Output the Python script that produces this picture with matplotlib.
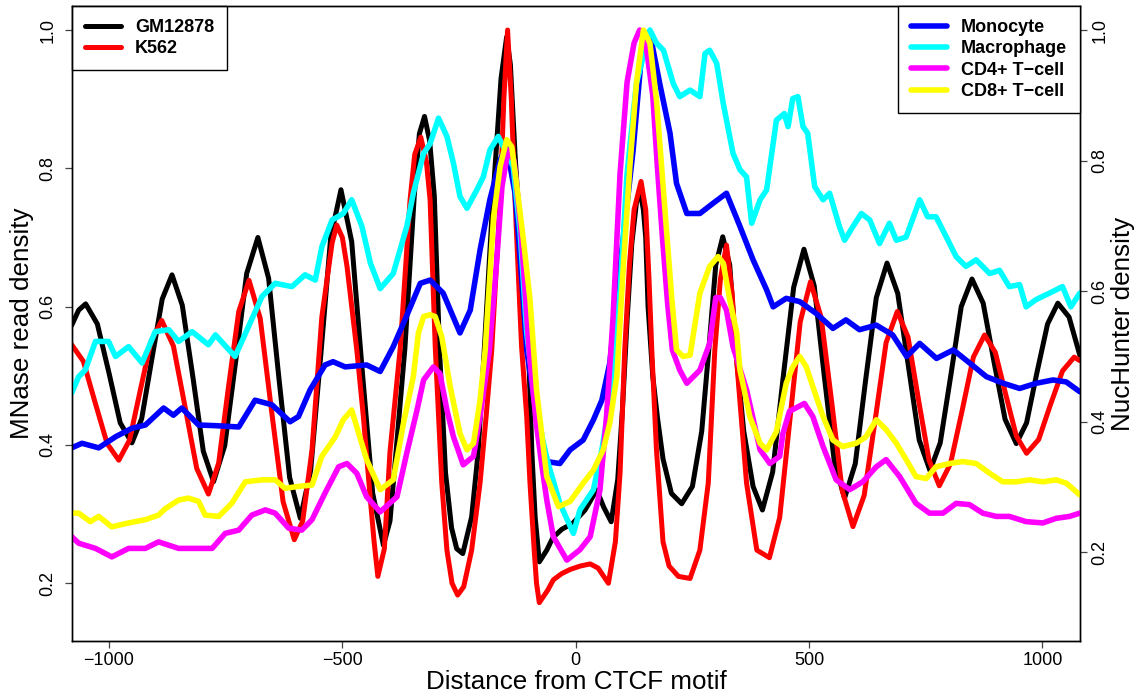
import matplotlib
matplotlib.use("Agg")
import matplotlib.pyplot as plt

plt.rcParams['font.family'] = ['Liberation Sans', 'DejaVu Sans']

# ---- MNase read density (left axis) ----
gm_x = [-1080, -1065, -1050, -1025, -1000, -976, -951, -930, -908, -886, -865, -843, -820, -798,
        -776, -752, -728, -705, -681, -658, -636, -613, -590, -568, -546, -525, -503, -480, -458,
        -435, -412, -398, -385, -366, -346, -335, -324, -313, -303, -292, -279, -266, -255, -242,
        -223, -209, -196, -178, -160, -148, -140, -130, -115, -101, -94, -87, -78, -62, -49, -30,
        -6, 20, 45, 60, 76, 90, 100, 110, 120, 130, 137, 145, 150, 155, 165, 175, 187, 205, 227,
        250, 270, 285, 300, 315, 330, 343, 360, 380, 400, 422, 444, 467, 489, 511, 532, 554, 576,
        599, 621, 644, 667, 690, 713, 736, 759, 781, 804, 826, 849, 873, 896, 920, 944, 966, 988,
        1011, 1033, 1057, 1080]
gm_y = [0.573, 0.595, 0.604, 0.575, 0.504, 0.432, 0.403, 0.438, 0.525, 0.611, 0.646, 0.602, 0.497,
        0.391, 0.347, 0.399, 0.524, 0.648, 0.700, 0.641, 0.497, 0.353, 0.294, 0.363, 0.532, 0.700,
        0.769, 0.694, 0.512, 0.330, 0.255, 0.29, 0.39, 0.54, 0.76, 0.85, 0.875, 0.84, 0.76, 0.54,
        0.36, 0.28, 0.25, 0.243, 0.296, 0.39, 0.537, 0.75, 0.93, 0.99, 0.95, 0.82, 0.66, 0.537,
        0.39, 0.296, 0.231, 0.248, 0.266, 0.278, 0.287, 0.306, 0.335, 0.31, 0.289, 0.35, 0.45,
        0.58, 0.69, 0.75, 0.77, 0.74, 0.70, 0.60, 0.50, 0.44, 0.38, 0.33, 0.315, 0.34, 0.42, 0.537,
        0.66, 0.701, 0.66, 0.537, 0.42, 0.34, 0.306, 0.361, 0.495, 0.628, 0.683, 0.630, 0.503,
        0.376, 0.323, 0.373, 0.493, 0.613, 0.663, 0.619, 0.513, 0.407, 0.363, 0.403, 0.502, 0.600,
        0.640, 0.605, 0.521, 0.437, 0.402, 0.432, 0.504, 0.575, 0.605, 0.585, 0.530]

k562_x = [-1080, -1055, -1030, -1004, -979, -956, -933, -910, -887, -862, -837, -812, -787, -765,
          -744, -722, -700, -676, -652, -627, -603, -585, -565, -544, -522, -512, -500, -490, -469,
          -455, -440, -432, -424, -410, -398, -376, -355, -345, -332, -320, -312, -301, -287, -276,
          -265, -253, -240, -223, -205, -192, -180, -162, -154, -146, -138, -130, -116, -105, -98,
          -89, -84, -78, -60, -48, -30, -12, 10, 31, 48, 60, 70, 85, 95, 105, 115, 125, 140, 150,
          157, 163, 173, 187, 200, 220, 245, 266, 284, 298, 310, 323, 335, 343, 366, 388, 415, 437,
          459, 481, 503, 526, 549, 571, 594, 618, 642, 665, 689, 712, 734, 757, 779, 803, 828, 852,
          876, 899, 921, 944, 966, 992, 1017, 1043, 1068, 1080]
k562_y = [0.545, 0.521, 0.462, 0.402, 0.378, 0.407, 0.479, 0.550, 0.580, 0.543, 0.455, 0.366, 0.329,
          0.374, 0.484, 0.593, 0.638, 0.583, 0.451, 0.318, 0.263, 0.29, 0.393, 0.585, 0.692, 0.718,
          0.70, 0.658, 0.537, 0.441, 0.321, 0.26, 0.210, 0.25, 0.39, 0.54, 0.754, 0.82, 0.845, 0.81,
          0.754, 0.542, 0.345, 0.248, 0.200, 0.183, 0.195, 0.248, 0.345, 0.441, 0.537, 0.754, 0.90,
          1.0, 0.90, 0.754, 0.542, 0.441, 0.345, 0.248, 0.200, 0.172, 0.19, 0.205, 0.214, 0.22,
          0.225, 0.228, 0.222, 0.21, 0.20, 0.26, 0.36, 0.537, 0.66, 0.74, 0.781, 0.74, 0.64, 0.537,
          0.393, 0.26, 0.225, 0.21, 0.207, 0.248, 0.345, 0.537, 0.64, 0.689, 0.62, 0.537, 0.345,
          0.248, 0.237, 0.295, 0.437, 0.578, 0.636, 0.584, 0.459, 0.334, 0.282, 0.327, 0.438, 0.548,
          0.593, 0.556, 0.467, 0.378, 0.341, 0.373, 0.450, 0.527, 0.559, 0.534, 0.474, 0.413, 0.388,
          0.408, 0.458, 0.507, 0.527, 0.522]

# ---- NucHunter density (right axis) ----
mono_x = [-1080, -1058, -1022, -986, -951, -922, -883, -862, -844, -808, -772, -722, -687, -651,
          -612, -594, -569, -537, -520, -494, -448, -419, -391, -366, -333, -312, -284, -248, -226,
          -205, -184, -162, -148, -130, -118, -105, -84, -62, -34, -12, 16, 38, 56, 73, 95, 123, 145,
          159, 180, 202, 216, 238, 266, 295, 323, 352, 380, 409, 423, 451, 480, 515, 551, 579, 608,
          644, 679, 709, 737, 773, 809, 844, 880, 916, 951, 987, 1023, 1051, 1080]
mono_y = [0.360, 0.367, 0.360, 0.377, 0.390, 0.395, 0.421, 0.410, 0.421, 0.395, 0.394, 0.392, 0.433,
          0.426, 0.400, 0.408, 0.449, 0.487, 0.492, 0.484, 0.487, 0.477, 0.515, 0.556, 0.612, 0.617,
          0.597, 0.536, 0.571, 0.663, 0.740, 0.801, 0.821, 0.75, 0.64, 0.510, 0.408, 0.339, 0.336,
          0.357, 0.372, 0.403, 0.433, 0.49, 0.638, 0.816, 0.995, 0.995, 0.918, 0.842, 0.765, 0.719,
          0.719, 0.735, 0.750, 0.699, 0.648, 0.602, 0.576, 0.589, 0.584, 0.566, 0.543, 0.556, 0.541,
          0.548, 0.533, 0.500, 0.520, 0.497, 0.510, 0.490, 0.469, 0.459, 0.451, 0.459, 0.464, 0.461,
          0.446]

macro_x = [-1080, -1065, -1051, -1029, -1001, -986, -958, -929, -901, -872, -851, -822, -787, -772,
           -730, -701, -672, -644, -608, -580, -558, -544, -522, -498, -480, -458, -440, -419, -391,
           -362, -348, -326, -312, -294, -276, -262, -248, -233, -212, -198, -184, -166, -155, -134,
           -119, -105, -85, -70, -59, -34, -5, 9, 38, 56, 73, 95, 110, 130, 159, 173, 188, 209, 223,
           245, 266, 277, 287, 302, 316, 337, 352, 366, 377, 395, 409, 430, 447, 455, 465, 476, 487,
           497, 512, 530, 544, 565, 576, 594, 612, 630, 651, 672, 687, 708, 737, 754, 772, 794, 815,
           836, 858, 887, 908, 929, 951, 965, 986, 1015, 1043, 1061, 1080]
macro_y = [0.444, 0.469, 0.479, 0.523, 0.523, 0.500, 0.515, 0.490, 0.538, 0.541, 0.523, 0.538, 0.518,
           0.533, 0.500, 0.546, 0.592, 0.612, 0.607, 0.625, 0.617, 0.668, 0.709, 0.719, 0.740, 0.699,
           0.643, 0.604, 0.627, 0.699, 0.750, 0.811, 0.826, 0.865, 0.837, 0.796, 0.745, 0.727, 0.755,
           0.775, 0.816, 0.837, 0.821, 0.791, 0.689, 0.536, 0.42, 0.37, 0.336, 0.275, 0.229, 0.265,
           0.296, 0.357, 0.433, 0.60, 0.78, 0.918, 1.0, 0.98, 0.969, 0.918, 0.898, 0.908, 0.898,
           0.964, 0.969, 0.949, 0.888, 0.811, 0.786, 0.775, 0.704, 0.740, 0.755, 0.862, 0.872, 0.852,
           0.895, 0.898, 0.852, 0.842, 0.760, 0.740, 0.750, 0.699, 0.678, 0.699, 0.719, 0.709, 0.673,
           0.704, 0.678, 0.683, 0.740, 0.714, 0.714, 0.683, 0.653, 0.638, 0.648, 0.627, 0.632, 0.607,
           0.610, 0.576, 0.587, 0.597, 0.607, 0.576, 0.597]

cd4_x = [-1080, -1065, -1029, -994, -958, -922, -894, -851, -808, -779, -751, -722, -694, -665, -644,
         -615, -587, -565, -537, -508, -490, -469, -448, -419, -383, -362, -340, -326, -305, -291,
         -276, -262, -241, -219, -205, -185, -170, -158, -145, -132, -118, -100, -85, -72, -62, -48,
         -19, 9, 31, 52, 66, 80, 95, 110, 125, 137, 150, 165, 175, 186, 197, 207, 223, 238, 266, 287,
         300, 310, 323, 337, 366, 395, 416, 437, 444, 458, 490, 508, 530, 558, 587, 615, 644, 665,
         694, 729, 758, 787, 815, 844, 872, 901, 929, 965, 1001, 1029, 1058, 1080]
cd4_y = [0.224, 0.214, 0.206, 0.193, 0.206, 0.206, 0.216, 0.206, 0.206, 0.206, 0.229, 0.234, 0.257,
         0.265, 0.260, 0.237, 0.234, 0.250, 0.291, 0.331, 0.336, 0.321, 0.285, 0.262, 0.285, 0.352,
         0.418, 0.464, 0.484, 0.474, 0.418, 0.377, 0.334, 0.347, 0.408, 0.51, 0.64, 0.76, 0.816,
         0.80, 0.70, 0.51, 0.40, 0.33, 0.280, 0.224, 0.188, 0.204, 0.224, 0.296, 0.408, 0.56, 0.78,
         0.92, 0.98, 1.0, 0.98, 0.90, 0.79, 0.68, 0.58, 0.51, 0.479, 0.459, 0.479, 0.52, 0.59, 0.59,
         0.571, 0.515, 0.449, 0.357, 0.336, 0.347, 0.382, 0.416, 0.428, 0.408, 0.362, 0.311, 0.296,
         0.308, 0.331, 0.342, 0.316, 0.275, 0.260, 0.260, 0.275, 0.273, 0.260, 0.255, 0.255, 0.247,
         0.245, 0.252, 0.255, 0.260]

cd8_x = [-1080, -1065, -1040, -1022, -994, -958, -922, -894, -879, -851, -830, -808, -794, -765, -737,
         -708, -672, -644, -623, -594, -565, -544, -515, -498, -480, -448, -419, -391, -369, -348,
         -337, -326, -312, -301, -287, -269, -248, -233, -219, -205, -194, -176, -162, -148, -137,
         -126, -112, -98, -84, -62, -37, -12, 16, 38, 59, 73, 88, 102, 116, 130, 145, 159, 173, 184,
         195, 206, 216, 230, 245, 266, 287, 305, 316, 330, 345, 352, 373, 395, 409, 430, 451, 465,
         480, 494, 508, 530, 551, 572, 601, 622, 644, 665, 687, 708, 729, 751, 772, 801, 829, 858,
         887, 915, 944, 972, 1001, 1029, 1051, 1080]
cd8_y = [0.260, 0.260, 0.247, 0.255, 0.239, 0.245, 0.250, 0.257, 0.267, 0.280, 0.283, 0.278, 0.257,
         0.255, 0.275, 0.308, 0.311, 0.311, 0.298, 0.301, 0.303, 0.347, 0.377, 0.403, 0.418, 0.342,
         0.296, 0.311, 0.398, 0.469, 0.536, 0.561, 0.564, 0.561, 0.530, 0.454, 0.382, 0.357, 0.367,
         0.433, 0.510, 0.714, 0.791, 0.832, 0.821, 0.760, 0.678, 0.587, 0.449, 0.316, 0.270, 0.278,
         0.306, 0.326, 0.357, 0.398, 0.469, 0.638, 0.791, 0.918, 1.0, 0.98, 0.893, 0.791, 0.689,
         0.587, 0.510, 0.50, 0.502, 0.597, 0.638, 0.653, 0.643, 0.587, 0.536, 0.479, 0.408, 0.367,
         0.357, 0.385, 0.459, 0.484, 0.500, 0.484, 0.454, 0.408, 0.372, 0.362, 0.367, 0.377, 0.403,
         0.388, 0.367, 0.342, 0.316, 0.313, 0.331, 0.336, 0.339, 0.336, 0.321, 0.308, 0.308, 0.311,
         0.308, 0.311, 0.306, 0.288]

x_ticks = [-1000, -500, 0, 500, 1000]
y_ticks = [0.2, 0.4, 0.6, 0.8, 1.0]

fig = plt.figure(figsize=(11.43, 6.98), dpi=100)
ax = fig.add_axes([0.0627, 0.0817, 0.8824, 0.9097])
ax2 = ax.twinx()

smooth_kw = dict(linewidth=3.6, solid_capstyle='round', solid_joinstyle='round')
rough_kw = dict(linewidth=4.0, solid_capstyle='round', solid_joinstyle='round')

ax.plot(gm_x, gm_y, color='black', label='GM12878', **smooth_kw)
ax.plot(k562_x, k562_y, color='#ff0000', label='K562', **smooth_kw)

ax2.plot(mono_x, mono_y, color='#0000ff', label='Monocyte', **rough_kw)
ax2.plot(macro_x, macro_y, color='#00ffff', label='Macrophage', **rough_kw)
ax2.plot(cd4_x, cd4_y, color='#ff00ff', label='CD4+ T\u2212cell', **rough_kw)
ax2.plot(cd8_x, cd8_y, color='#ffff00', label='CD8+ T\u2212cell', **rough_kw)

ax.set_xlim(-1080, 1081)
ax.set_ylim(0.1166, 1.0347)
ax2.set_ylim(0.0642, 1.0368)

ax.set_xticks(x_ticks)
ax.set_yticks(y_ticks)
ax2.set_yticks(y_ticks)
ax.set_yticklabels(['%.1f' % v for v in y_ticks])
ax2.set_yticklabels(['%.1f' % v for v in y_ticks])

for a in (ax, ax2):
    for s in a.spines.values():
        s.set_linewidth(1.0)
        s.set_color('black')
    a.tick_params(direction='out', length=5, width=0.9, color='#444444', labelsize=13)

ax.tick_params(axis='x', pad=3)
ax.tick_params(axis='y', pad=6)
ax2.tick_params(axis='y', pad=3)
for t in ax.get_yticklabels():
    t.set_rotation(90)
    t.set_va('center')
for t in ax2.get_yticklabels():
    t.set_rotation(90)
    t.set_va('center')

ax.set_xlabel('Distance from CTCF motif', fontsize=18.7)
ax.xaxis.set_label_coords(0.5, -0.0645)
ax.xaxis.label.set_va('center')
ax.set_ylabel('MNase read density', fontsize=18.7)
ax.yaxis.set_label_coords(-0.0493, 0.5)
ax.yaxis.label.set_va('center')
ax2.set_ylabel('NucHunter density', fontsize=18.7)
ax2.yaxis.set_label_coords(1.0423, 0.5)
ax2.yaxis.label.set_va('center')

leg_kw = dict(frameon=True, fancybox=False, borderaxespad=0, handlelength=2.0,
              handletextpad=0.8, borderpad=0.72, labelspacing=0.24,
              prop={'family': 'Liberation Sans', 'weight': 'bold', 'size': 13})
leg1 = ax.legend(loc='upper left', bbox_to_anchor=(0, 1), **leg_kw)
leg2 = ax2.legend(loc='upper right', bbox_to_anchor=(1, 1), **leg_kw)
for lg in (leg1, leg2):
    lg.get_frame().set_edgecolor('black')
    lg.get_frame().set_linewidth(1.0)
    lg.get_frame().set_alpha(1)

fig.savefig('out.png', dpi=100)
